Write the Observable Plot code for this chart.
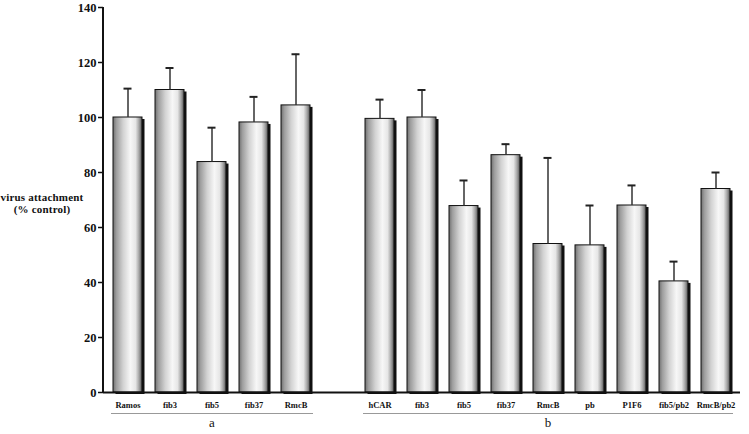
<!DOCTYPE html>
<html><head><meta charset="utf-8">
<script src="https://cdn.jsdelivr.net/npm/d3@7"></script>
<script src="https://cdn.jsdelivr.net/npm/@observablehq/plot@0.6"></script>
<style>body{margin:0;background:#fff} svg text{font-family:"Liberation Serif","Times New Roman","DejaVu Serif",serif !important;}</style>
</head><body><div id="chart"></div>
<script>
const groupA = ["Ramos","fib3","fib5","fib37","RmcB"];
const groupB = ["hCAR","fib3","fib5","fib37","RmcB","pb","P1F6","fib5/pb2","RmcB/pb2"];
const valuesA = [100, 110, 83.8, 98.2, 104.4];
const errTopA = [110.5, 118, 96.3, 107.5, 123];
const valuesB = [99.5, 100, 67.8, 86.3, 54, 53.5, 68, 40.4, 74];
const errTopB = [106.5, 110, 77.1, 90.3, 85.3, 68, 75.3, 47.6, 80];
const groupLabels = ["a","b"];
const yTicks = [0,20,40,60,80,100,120,140];

const data = [
  ...groupA.map((c,i)=>({key:"a|"+c, label:c, value:valuesA[i], err:errTopA[i]})),
  ...groupB.map((c,i)=>({key:"b|"+c, label:c, value:valuesB[i], err:errTopB[i]}))
];
const domain = [...data.slice(0,5).map(d=>d.key), "gap", ...data.slice(5).map(d=>d.key)];
const serif = '"Liberation Serif","Times New Roman","DejaVu Serif",serif';

const chart = Plot.plot({
  width: 749, height: 434,
  marginTop: 7, marginBottom: 42, marginLeft: 103, marginRight: 9,
  style: {fontFamily: serif, background: "#fff", color: "#111"},
  x: {domain, paddingInner: 0.31, paddingOuter: 0.155, axis: null, label: null},
  y: {domain: [0,140], axis: null, label: null},
  marks: [
    Plot.rectY(data, {x:"key", y:"value", fill:"#111", dx:2.5, dy:2}),
    Plot.rectY(data, {x:"key", y:"value", fill:"url(#barGrad)", stroke:"#111", strokeWidth:1}),
    Plot.ruleX(data, {x:"key", y1:"value", y2:"err", stroke:"#333", strokeWidth:1.5}),
    Plot.tickY(data, {x:"key", y:"err", stroke:"#222", strokeWidth:2, insetLeft:10.5, insetRight:10.5}),
    Plot.ruleY([0], {stroke:"#111", strokeWidth:2}),
    Plot.axisY({ticks: yTicks, tickSize: 5, tickPadding: 2, fontSize: 12.5, fontWeight: "bold", stroke: "#111", strokeWidth: 1.5, label: null}),
    Plot.axisX({ticks: data.map(d=>d.key), tickSize: 0, tickPadding: 9, fontSize: 8.5, fontWeight: "bold", label: null,
      tickFormat: k => k.split("|")[1]})
  ]
});

const svg = d3.select(chart);
const defs = svg.insert("defs", ":first-child");
const g = defs.append("linearGradient").attr("id","barGrad").attr("x1","0").attr("x2","1").attr("y1","0").attr("y2","0");
[[0,"#707070"],[0.12,"#9e9e9e"],[0.35,"#d2d2d2"],[0.6,"#f7f7f7"],[0.78,"#e6e6e6"],[0.9,"#a4a4a4"],[1,"#555"]]
  .forEach(([o,c])=>g.append("stop").attr("offset",o).attr("stop-color",c));

const x = chart.scale("x"), y = chart.scale("y");
const bw = x.bandwidth;
svg.append("line").attr("x1",103).attr("x2",103).attr("y1",y.apply(140)).attr("y2",y.apply(0))
  .attr("stroke","#111").attr("stroke-width",2);
const groups = [[data.slice(0,5), groupLabels[0]], [data.slice(5), groupLabels[1]]];
for (const [arr, lab] of groups) {
  const x0 = x.apply(arr[0].key) - 2, x1 = x.apply(arr[arr.length-1].key) + bw + 3;
  svg.append("line").attr("x1",x0).attr("x2",x1).attr("y1",413.5).attr("y2",413.5)
    .attr("stroke","#999").attr("stroke-width",1);
  svg.append("text").attr("x",(x0+x1)/2).attr("y",427).attr("text-anchor","middle")
    .attr("font-size",13).attr("fill","#111").text(lab);
}
const t = svg.append("text").attr("font-size",11).attr("font-weight","bold").attr("letter-spacing",0.2)
  .attr("fill","#111").attr("text-anchor","middle");
t.append("tspan").attr("x",42).attr("y",201).text("virus attachment");
t.append("tspan").attr("x",42).attr("y",213).text("(% control)");
document.getElementById("chart").append(chart);
</script></body></html>
